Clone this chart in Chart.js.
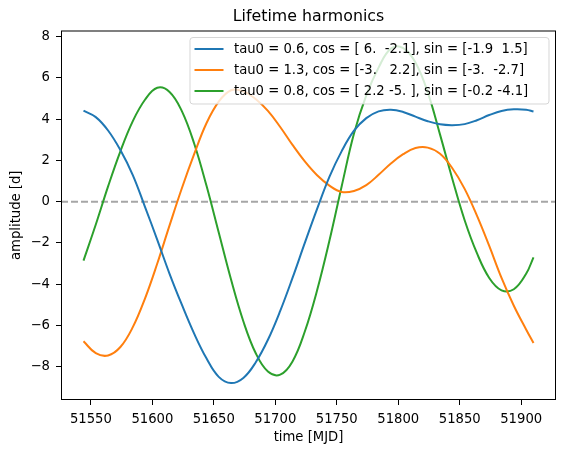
<!DOCTYPE html>
<html>
<head>
<meta charset="utf-8">
<script src="https://cdn.jsdelivr.net/npm/chart.js@4.4.1/dist/chart.umd.min.js"></script>
<style>
  html, body { margin: 0; padding: 0; background: #fff; }
  #wrap { width: 565px; height: 453px; }
</style>
</head>
<body>
<div id="wrap"><canvas id="harmChart" width="565" height="453"></canvas></div>
<script>
// --- data ---
const times = [51544, 51554, 51564, 51574, 51584, 51594, 51604, 51614, 51624, 51634,
               51644, 51654, 51664, 51674, 51684, 51694, 51704, 51714, 51724, 51734,
               51744, 51754, 51764, 51774, 51784, 51794, 51804, 51814, 51824, 51834,
               51844, 51854, 51864, 51874, 51884, 51894, 51904, 51910];

const blueVals = [4.41, 4.10, 3.45, 2.50, 1.30, -0.25, -1.85, -3.50, -5.00, -6.40,
                  -7.60, -8.50, -8.80, -8.55, -7.80, -6.70, -5.30, -3.70, -2.00, -0.35,
                  1.20, 2.45, 3.44, 4.05, 4.38, 4.46, 4.35, 4.12, 3.90, 3.75,
                  3.71, 3.76, 3.95, 4.20, 4.40, 4.48, 4.46, 4.37];

const orangeVals = [-6.77, -7.35, -7.46, -7.05, -6.10, -4.70, -3.00, -1.15, 0.65, 2.30,
                    3.80, 4.85, 5.40, 5.35, 4.98, 4.40, 3.62, 2.75, 1.95, 1.28,
                    0.78, 0.47, 0.52, 0.80, 1.30, 1.85, 2.30, 2.60, 2.62, 2.32,
                    1.62, 0.62, -0.68, -2.15, -3.70, -5.05, -6.20, -6.86];

const greenVals = [-2.86, -1.11, 0.74, 2.44, 3.89, 4.94, 5.52, 5.32, 4.39, 2.82,
                   0.78, -1.50, -3.78, -5.80, -7.34, -8.24, -8.39, -7.75, -6.30, -4.30,
                   -1.90, 0.75, 3.30, 5.15, 6.50, 7.42, 7.45, 6.75, 5.30, 3.25,
                   1.10, -0.90, -2.50, -3.70, -4.30, -4.25, -3.50, -2.70];

const seriesLabels = [
    'tau0 = 0.6, cos = [ 6.  -2.1], sin = [-1.9  1.5]',
    'tau0 = 1.3, cos = [-3.   2.2], sin = [-3.  -2.7]',
    'tau0 = 0.8, cos = [ 2.2 -5. ], sin = [-0.2 -4.1]'
];
const seriesColors = ['#1f77b4', '#ff7f0e', '#2ca02c'];

const xTicks = [51550, 51600, 51650, 51700, 51750, 51800, 51850, 51900];
const yTicks = [-8, -6, -4, -2, 0, 2, 4, 6, 8];

document.addEventListener('DOMContentLoaded', () => {

    const FONT = 'DejaVu Sans';
    const toPts = vals => vals.map((v, i) => ({ x: times[i], y: v }));

    // --- frame, zero line, title, legend (matplotlib look) ---
    const mplLook = {
        id: 'mplLook',
        beforeDatasetsDraw(chart) {
            const { ctx, chartArea: a, scales } = chart;
            const y0 = scales.y.getPixelForValue(0);
            ctx.save();
            ctx.strokeStyle = 'rgba(128,128,128,0.7)';
            ctx.lineWidth = 2;
            ctx.setLineDash([7, 3]);
            ctx.beginPath();
            ctx.moveTo(a.left, y0);
            ctx.lineTo(a.right, y0);
            ctx.stroke();
            ctx.restore();
        },
        afterDatasetsDraw(chart) {
            const { ctx, chartArea: a } = chart;
            ctx.save();
            // spines
            ctx.strokeStyle = '#000';
            ctx.lineWidth = 1;
            ctx.strokeRect(a.left + 0.5, a.top + 0.5, a.right - a.left - 1, a.bottom - a.top - 1);

            // title
            ctx.fillStyle = '#000';
            ctx.font = '15.8px "' + FONT + '"';
            ctx.textAlign = 'center';
            ctx.textBaseline = 'middle';
            ctx.fillText('Lifetime harmonics', (a.left + a.right) / 2, 17);

            // legend box
            const bx = 190, by = 37.5, bw = 359, bh = 66.5, r = 3;
            ctx.beginPath();
            ctx.moveTo(bx + r, by);
            ctx.arcTo(bx + bw, by, bx + bw, by + bh, r);
            ctx.arcTo(bx + bw, by + bh, bx, by + bh, r);
            ctx.arcTo(bx, by + bh, bx, by, r);
            ctx.arcTo(bx, by, bx + bw, by, r);
            ctx.closePath();
            ctx.fillStyle = 'rgba(255,255,255,0.8)';
            ctx.fill();
            ctx.strokeStyle = 'rgba(204,204,204,0.8)';
            ctx.lineWidth = 1;
            ctx.stroke();

            ctx.font = '13.2px "' + FONT + '"';
            ctx.textAlign = 'left';
            chart.data.datasets.forEach((ds, i) => {
                const ly = 49 + i * 21;
                ctx.strokeStyle = ds.borderColor;
                ctx.lineWidth = 2;
                ctx.beginPath();
                ctx.moveTo(194.5, ly);
                ctx.lineTo(223.5, ly);
                ctx.stroke();
                ctx.fillStyle = '#000';
                ctx.fillText(ds.label, 234, ly + 0.5);
            });
            ctx.restore();
        }
    };

    const minus = v => String(v).replace('-', '\u2212');

    new Chart(document.getElementById('harmChart'), {
        type: 'line',
        data: {
            datasets: [blueVals, orangeVals, greenVals].map((vals, i) => ({
                label: seriesLabels[i],
                data: toPts(vals),
                borderColor: seriesColors[i],
                backgroundColor: seriesColors[i],
                borderWidth: 2,
                pointRadius: 0,
                tension: 0.4,
                fill: false
            }))
        },
        options: {
            responsive: false,
            animation: false,
            layout: { padding: { top: 30.5, right: 9, left: 0, bottom: 0 } },
            plugins: {
                legend: { display: false },
                title: { display: false },
                tooltip: { enabled: false }
            },
            scales: {
                x: {
                    type: 'linear',
                    min: 51525.7,
                    max: 51928.3,
                    afterBuildTicks: s => { s.ticks = xTicks.map(v => ({ value: v })); },
                    afterFit: s => { s.height = 53; },
                    grid: { drawOnChartArea: false, drawTicks: true, tickLength: 5, color: '#000' },
                    border: { display: false },
                    ticks: {
                        font: { family: FONT, size: 13.2 },
                        color: '#000',
                        padding: 7,
                        maxRotation: 0,
                        callback: v => String(v)
                    },
                    title: {
                        display: true,
                        text: 'time [MJD]',
                        font: { family: FONT, size: 13.2 },
                        color: '#000',
                        padding: { top: 0, bottom: 8 }
                    }
                },
                y: {
                    type: 'linear',
                    min: -9.62,
                    max: 8.3,
                    afterBuildTicks: s => { s.ticks = yTicks.map(v => ({ value: v })); },
                    afterFit: s => { s.width = 61; },
                    grid: { drawOnChartArea: false, drawTicks: true, tickLength: 5, color: '#000' },
                    border: { display: false },
                    ticks: {
                        font: { family: FONT, size: 13.2 },
                        color: '#000',
                        padding: 6,
                        callback: v => minus(v)
                    },
                    title: {
                        display: true,
                        text: 'amplitude [d]',
                        font: { family: FONT, size: 13.2 },
                        color: '#000',
                        padding: { top: 9, bottom: 0 }
                    }
                }
            }
        },
        plugins: [mplLook]
    });
});
</script>
</body>
</html>
